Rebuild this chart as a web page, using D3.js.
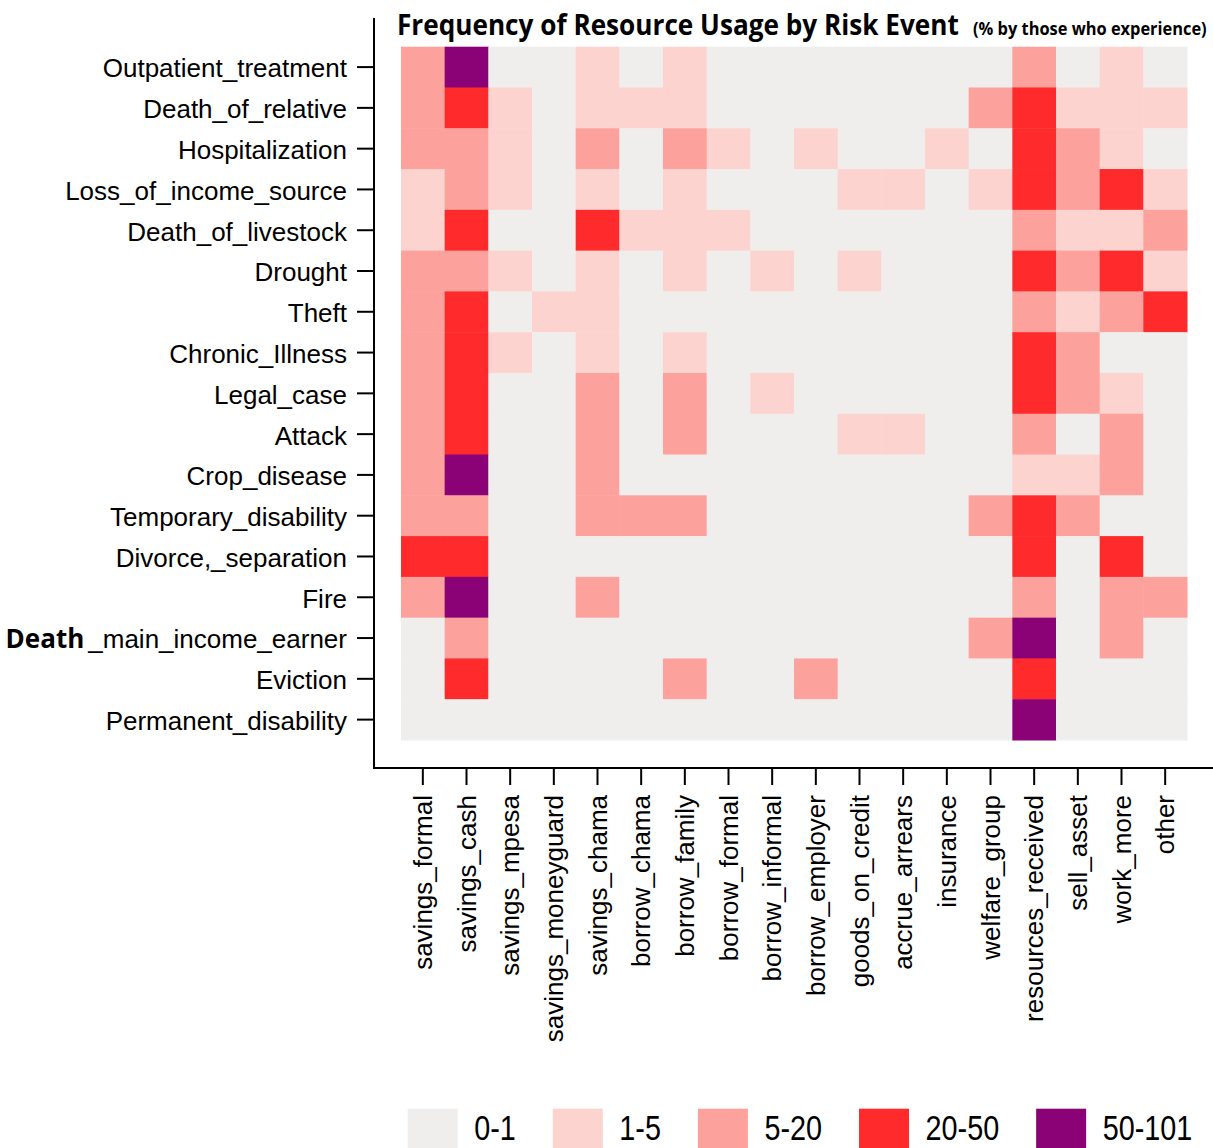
<!DOCTYPE html>
<meta charset="utf-8">
<style>
    body { margin: 0; background: #fff; }
    .axis text { font: 26px "Liberation Sans", Arial, sans-serif; fill: #000; }
    .axis line { stroke: #000; stroke-width: 2px; }
    .frame { stroke: #000; stroke-width: 2px; }
    .title { font-family: "Open Sans", sans-serif; font-weight: bold; fill: #000; }
    .legend text { font: 36px "Liberation Sans", Arial, sans-serif; fill: #000; }
</style>
<svg width="1213" height="1148"></svg>
<script src="https://d3js.org/d3.v7.min.js"></script>
<script>

    var rows = ["Outpatient_treatment", "Death_of_relative", "Hospitalization", "Loss_of_income_source",
        "Death_of_livestock", "Drought", "Theft", "Chronic_Illness", "Legal_case", "Attack", "Crop_disease",
        "Temporary_disability", "Divorce,_separation", "Fire", "Death_main_income_earner", "Eviction",
        "Permanent_disability"];

    var cols = ["savings_formal", "savings_cash", "savings_mpesa", "savings_moneyguard", "savings_chama",
        "borrow_chama", "borrow_family", "borrow_formal", "borrow_informal", "borrow_employer",
        "goods_on_credit", "accrue_arrears", "insurance", "welfare_group", "resources_received",
        "sell_asset", "work_more", "other"];

    var bins = ["0-1", "1-5", "5-20", "20-50", "50-101"];

    // bin index for every cell, one line per risk event (same order as cols)
    var levels = [
        [2,4,0,0,1,0,1,0,0,0,0,0,0,0,2,0,1,0],
        [2,3,1,0,1,1,1,0,0,0,0,0,0,2,3,1,1,1],
        [2,2,1,0,2,0,2,1,0,1,0,0,1,0,3,2,1,0],
        [1,2,1,0,1,0,1,0,0,0,1,1,0,1,3,2,3,1],
        [1,3,0,0,3,1,1,1,0,0,0,0,0,0,2,1,1,2],
        [2,2,1,0,1,0,1,0,1,0,1,0,0,0,3,2,3,1],
        [2,3,0,1,1,0,0,0,0,0,0,0,0,0,2,1,2,3],
        [2,3,1,0,1,0,1,0,0,0,0,0,0,0,3,2,0,0],
        [2,3,0,0,2,0,2,0,1,0,0,0,0,0,3,2,1,0],
        [2,3,0,0,2,0,2,0,0,0,1,1,0,0,2,0,2,0],
        [2,4,0,0,2,0,0,0,0,0,0,0,0,0,1,1,2,0],
        [2,2,0,0,2,2,2,0,0,0,0,0,0,2,3,2,0,0],
        [3,3,0,0,0,0,0,0,0,0,0,0,0,0,3,0,3,0],
        [2,4,0,0,2,0,0,0,0,0,0,0,0,0,2,0,2,2],
        [0,2,0,0,0,0,0,0,0,0,0,0,0,2,4,0,2,0],
        [0,3,0,0,0,0,2,0,0,2,0,0,0,0,3,0,0,0],
        [0,0,0,0,0,0,0,0,0,0,0,0,0,0,4,0,0,0]
    ];

    var palette = ["#f0eeed", "#fdd3d0", "#fca19c", "#fe2a2b", "#8b0276"];

    var svg = d3.select("svg");

    var x = d3.scaleBand().domain(cols).range([401, 1187]);
    var y = d3.scaleBand().domain(rows).range([46.7, 740]);
    var color = d3.scaleOrdinal().domain(d3.range(bins.length)).range(palette);

    var cells = [];
    levels.forEach(function (r, i) {
        r.forEach(function (v, j) {
            cells.push({row: rows[i], col: cols[j], level: v});
        });
    });

    svg.append("g")
        .selectAll("rect")
        .data(cells)
        .enter().append("rect")
        .attr("x", function (d) { return x(d.col); })
        .attr("y", function (d) { return y(d.row); })
        .attr("width", x.bandwidth() + 0.5)
        .attr("height", y.bandwidth() + 0.5)
        .attr("fill", function (d) { return color(d.level); });

    // axes sit away from the grid, like an R plot
    var yAxis = svg.append("g")
        .attr("class", "axis")
        .attr("transform", "translate(374,0)")
        .call(d3.axisLeft(y).tickSize(17).tickPadding(10));
    yAxis.select(".domain").remove();
    yAxis.selectAll(".tick text").attr("dy", "0.4em");

    // the bold "Death" in this one label
    yAxis.selectAll(".tick text")
        .filter(function (d) { return d === "Death_main_income_earner"; })
        .text(null)
        .call(function (t) {
            t.append("tspan")
                .style("font-family", "'Open Sans', sans-serif")
                .style("font-weight", "bold")
                .text("Death");
            t.append("tspan").attr("dx", 4).text("_main_income_earner");
        });

    var xAxis = svg.append("g")
        .attr("class", "axis")
        .attr("transform", "translate(0,768)")
        .call(d3.axisBottom(x).tickSize(17).tickPadding(10));
    xAxis.select(".domain").remove();
    xAxis.selectAll(".tick text")
        .attr("transform", "rotate(-90)")
        .attr("x", -27)
        .attr("y", 0)
        .attr("dy", "0.35em")
        .style("text-anchor", "end");

    svg.append("line").attr("class", "frame")
        .attr("x1", 374).attr("x2", 374).attr("y1", 18).attr("y2", 769);
    svg.append("line").attr("class", "frame")
        .attr("x1", 373).attr("x2", 1213).attr("y1", 768).attr("y2", 768);

    // squeeze the title pieces to the widths seen in the original
    function squeezed(txt, size, left, width) {
        var t = svg.append("text").attr("class", "title")
            .style("font-size", size + "px")
            .text(txt);
        var k = width / t.node().getComputedTextLength();
        t.attr("transform", "translate(" + left + ",35) scale(" + k + ",1)");
    }
    squeezed("Frequency of Resource Usage by Risk Event", 28, 397, 562);
    squeezed("(% by those who experience)", 17, 973, 234);

    // legend along the bottom edge
    var legend = svg.append("g").attr("class", "legend");
    var lx = 407.7;
    bins.forEach(function (b, i) {
        legend.append("rect")
            .attr("x", lx).attr("y", 1108.7)
            .attr("width", 50).attr("height", 45)
            .attr("fill", color(i));
        var t = legend.append("text")
            .attr("transform", "translate(" + (lx + 66.5) + ",1140) scale(0.8,1)")
            .text(b);
        var w = t.node().getComputedTextLength() * 0.8;
        lx = lx + 66.5 + w + 37;
    });
</script>
